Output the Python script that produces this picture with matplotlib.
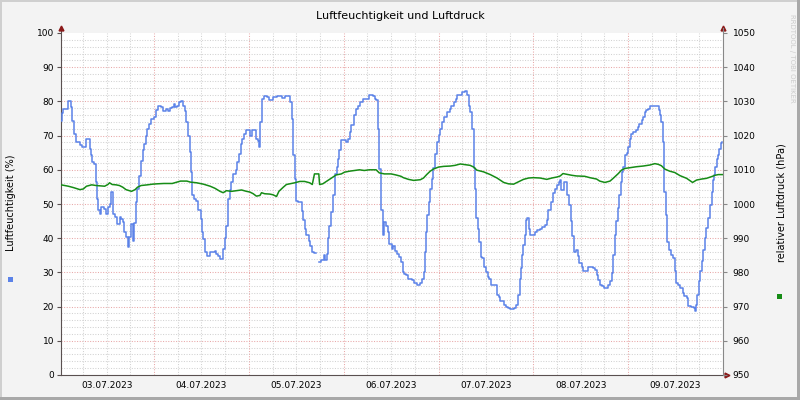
import matplotlib.pyplot as plt
import numpy as np
from matplotlib.patches import Rectangle

# Stunden ab 03.07.2023 00:00
hum_hours = [0.5, 0.8, 1.0, 2.2, 3.0, 3.3, 3.75, 4.2, 5.3, 5.8, 6.7, 7.75, 8.0, 8.4, 8.8, 9.2, 9.5, 9.8,
             10.2, 10.5, 11.3, 11.9, 12.3, 12.9, 13.2, 13.6, 14.2, 14.7, 15.3, 15.7, 16.1, 16.5, 16.9,
             17.3, 17.75, 18.2, 18.6, 19.0, 19.5, 19.8, 20.25, 20.7, 21.1, 21.5, 21.9, 22.3, 22.75,
             23.3, 24.0, 24.4, 25.0, 25.7, 26.3, 26.9, 27.5, 28.0, 28.6, 29.0, 29.4, 29.8, 30.25, 30.8,
             31.3, 31.75, 32.2, 32.6, 33.0, 33.3, 33.6, 34.0, 34.7, 35.25, 35.8, 36.2, 36.5, 36.9,
             37.3, 38.2, 39.0, 39.4, 39.8, 40.3, 40.7, 41.5, 41.9, 42.3, 42.75, 43.2, 43.6, 44.05,
             44.7, 45.1, 45.5, 45.9, 46.3, 46.7, 47.2, 47.8, 48.25, 48.8, 49.3, 49.7, 50.2, 50.5,
             50.8, 51.2, 51.4, 51.9, 52.5, 53.0, 53.7, 54.1, 55.0, 55.8, 56.5, 57.1, 58.1, 58.5,
             58.8, 59.2, 59.6, 59.85, 60.4, 61.0, 61.4, 61.7, 62.1, 62.5, 63.1, 63.5, 64.05, 64.4,
             65.0, 65.7, 66.3, 66.9, 67.3, 67.7, 68.1, 68.4, 68.8, 69.3, 69.9, 70.3, 70.5, 70.9,
             71.4, 71.9, 72.6, 73.0, 73.5, 73.9, 74.5, 75.0, 75.6, 76.2, 76.8, 77.7, 78.5, 79.3,
             79.8, 80.2, 80.6, 81.0, 81.4, 81.9, 82.3, 82.7, 83.1, 83.5, 84.1, 84.6, 85.0, 85.6,
             86.1, 86.5, 86.9, 87.3, 87.8, 88.4, 89.2, 89.7, 90.5, 91.2, 91.8, 92.2, 92.5, 92.9,
             93.2, 93.6, 93.9, 94.3, 94.7, 95.2, 95.6, 96.0, 96.4, 96.8, 97.4, 98.1, 98.8, 99.2,
             99.8, 100.4, 100.8, 101.5, 101.9, 102.75, 103.2, 103.6, 104.0, 104.4, 104.9, 105.3,
             105.5, 106.0, 106.3, 106.7, 107.1, 107.6, 108.1, 108.4, 108.9, 109.3, 110.3, 110.8,
             111.2, 111.6, 112.5, 113.1, 113.7, 114.1, 115.0, 115.7, 116.0, 116.5, 116.8, 117.2,
             117.5, 117.9, 118.2, 118.5, 118.95, 119.2, 119.9, 120.3, 120.9, 121.6, 122.2, 123.0,
             123.4, 123.8, 124.4, 124.9, 125.5, 126.0, 126.4, 126.8, 127.1, 127.5, 127.8, 128.2,
             128.6, 129.0, 129.5, 129.9, 130.3, 130.75, 131.2, 131.6, 132.2, 132.6, 133.3, 133.9,
             134.7, 135.1, 135.6, 136.0, 136.4, 136.8, 137.5, 137.9, 138.5, 138.9, 139.4, 139.8,
             140.2, 140.6, 141.0, 141.5, 141.7, 142.1, 142.4, 142.7, 143.2, 143.6, 144.0, 144.4,
             144.8, 145.3, 145.9, 146.4, 146.8, 147.4, 147.8, 148.2, 148.6, 149.1, 149.5, 150.3,
             151.3, 151.7, 152.0, 152.4, 152.7, 153.0, 153.5, 153.9, 154.3, 154.8, 155.4, 155.8,
             156.2, 156.7, 157.2, 157.8, 158.2, 158.8, 159.2, 160.0, 160.6, 160.9, 161.1, 161.5,
             161.8, 162.1, 162.6, 163.0, 163.4, 163.8, 164.3, 164.7, 165.1, 165.35, 165.7, 166.0,
             166.4, 166.7, 167.0, 167.4, 167.8]
hum_values = [74.4, 76.5, 77.9, 80.0, 78.3, 74.4, 70.5, 68.0, 67.2, 66.6, 68.9, 66.0, 64.2, 62.4, 61.7,
              56.4, 51.5, 48.1, 47.1, 49.0, 48.5, 47.0, 49.0, 50.0, 53.5, 47.0, 46.1, 44.2, 46.1,
              45.6, 44.6, 41.8, 40.3, 37.4, 40.3, 44.2, 39.3, 44.3, 50.5, 54.4, 58.3, 62.7, 65.7,
              67.6, 70.0, 72.0, 73.5, 75.0, 75.4, 77.4, 78.6, 78.3, 77.3, 77.8, 77.3, 78.0, 78.3,
              79.3, 78.3, 78.8, 79.8, 80.0, 78.6, 77.1, 74.0, 70.0, 65.2, 59.3, 52.5, 51.5, 51.0,
              48.1, 45.6, 41.8, 39.8, 35.9, 34.9, 35.9, 35.9, 36.4, 35.4, 34.9, 33.9, 36.8, 40.0,
              43.7, 51.5, 54.0, 56.4, 58.8, 59.8, 62.2, 64.7, 67.6, 68.9, 70.6, 71.5, 71.5, 70.0,
              71.5, 71.5, 69.0, 68.5, 66.6, 73.9, 76.9, 80.8, 81.6, 81.3, 80.3, 80.3, 81.3, 81.6,
              81.6, 81.0, 81.6, 81.6, 79.9, 74.9, 64.2, 57.4, 51.0, 50.5, 50.5, 48.0, 45.2, 42.7,
              40.8, 39.3, 37.8, 35.9, 35.7, np.nan, 33.0, 33.5, 35.0, 33.5, 35.4, 40.0, 43.7, 47.6,
              52.5, 58.8, 60.8, 63.2, 65.7, 68.6, 68.6, 68.1, 69.1, 71.0, 73.0, 75.9, 77.9, 78.8,
              79.8, 80.6, 80.8, 81.8, 81.6, 80.8, 80.3, 72.0, 60.3, 48.1, 40.8, 44.7, 43.7, 41.8,
              38.3, 36.9, 37.8, 36.4, 35.4, 34.4, 33.0, 30.0, 29.5, 29.2, 28.2, 27.7, 26.8, 26.3,
              26.8, 28.2, 30.2, 36.0, 41.9, 46.7, 50.6, 54.5, 57.4, 60.4, 64.7, 68.1, 70.1, 72.0,
              74.0, 75.4, 76.9, 77.9, 78.8, 79.8, 80.8, 81.8, 82.0, 82.7, 82.9, 81.8, 78.8, 76.9,
              72.0, 60.4, 54.5, 45.8, 42.8, 39.0, 34.6, 34.1, 31.7, 30.2, 28.7, 28.2, 26.3, 26.3,
              23.4, 22.9, 21.6, 20.4, 20.0, 19.6, 19.3, 19.6, 20.4, 23.4, 28.2, 31.2, 35.1, 38.0,
              40.9, 45.3, 45.8, 42.8, 40.9, 40.9, 41.9, 42.4, 42.8, 43.3, 43.8, 45.3, 48.2, 50.6,
              53.1, 54.5, 55.5, 56.5, 57.0, 54.1, 54.1, 56.3, 56.3, 52.6, 49.7, 44.9, 40.5, 36.1,
              36.6, 34.7, 32.7, 31.7, 30.3, 30.3, 31.7, 31.7, 31.2, 30.8, 29.3, 27.8, 26.4, 25.9,
              25.4, 25.4, 26.4, 27.4, 29.8, 35.1, 41.0, 44.9, 48.7, 52.6, 56.5, 59.4, 60.9, 64.3,
              64.8, 66.7, 69.1, 70.6, 71.1, 71.6, 72.5, 73.5, 74.5, 75.4, 76.9, 77.4, 77.9, 78.6,
              78.8, 78.6, 77.4, 75.9, 74.0, 68.2, 53.6, 46.8, 39.0, 36.6, 35.1, 34.2, 30.3, 26.9,
              26.4, 25.4, 24.0, 23.0, 22.5, 20.1, 19.8, 19.6, 18.6, 20.5, 23.5, 27.4, 30.3, 33.2,
              36.6, 40.0, 42.9, 45.8, 49.7, 53.6, 57.0, 58.4, 60.9, 63.3, 64.3, 66.2, 67.7, 68.2]

pres_hours = [0.5, 2.3, 3.6, 5.25, 6.1, 6.9, 8.2, 9.4, 11.5, 12.3, 12.75, 13.4, 14.4, 15.25, 16.1,
              16.9, 17.75, 18.3, 19.2, 19.8, 20.7, 22.3, 23.6, 24.8, 26.5, 28.6, 29.8, 30.7, 32.3,
              33.2, 34.8, 36.5, 38.2, 39.4, 40.7, 41.5, 42.3, 43.6, 44.9, 46.15, 47.4, 48.25, 49.1,
              49.9, 50.8, 51.2, 52.0, 53.3, 54.1, 55.0, 55.6, 56.7, 57.5, 58.3, 59.6, 60.9, 62.1,
              63.4, 64.05, 64.6, 65.7, 65.9, 66.7, 68.0, 69.3, 70.1, 71.4, 72.2, 73.5, 74.7, 76.0,
              77.2, 78.5, 80.2, 81.0, 82.3, 84.0, 85.2, 86.5, 87.1, 88.4, 89.7, 91.4, 92.2, 93.0,
              93.9, 94.7, 96.0, 97.3, 98.95, 100.2, 101.5, 102.75, 104.0, 104.9, 105.7, 107.4,
              109.1, 110.8, 112.5, 113.7, 115.0, 116.25, 117.5, 118.8, 120.0, 121.7, 123.4, 124.7,
              126.0, 126.8, 127.5, 128.4, 129.7, 130.9, 133.0, 134.3, 136.0, 136.8, 138.1, 139.4,
              140.2, 141.5, 142.3, 143.2, 144.4, 146.1, 147.8, 149.5, 150.75, 151.6, 152.4, 153.3,
              154.5, 155.8, 157.1, 158.8, 160.3, 161.3, 162.6, 163.8, 165.1, 166.0, 166.8, 167.8]
pres_values = [1005.6, 1005.2, 1004.8, 1004.2, 1004.4, 1005.2, 1005.6, 1005.4, 1005.2, 1005.7,
               1006.2, 1005.7, 1005.6, 1005.4, 1004.9, 1004.2, 1003.9, 1003.7, 1004.2, 1004.9,
               1005.4, 1005.6, 1005.8, 1005.9, 1006.0, 1006.0, 1006.4, 1006.7, 1006.7, 1006.4,
               1006.2, 1005.8, 1005.2, 1004.6, 1003.7, 1003.3, 1003.9, 1003.7, 1003.9, 1004.1,
               1003.7, 1003.5, 1003.0, 1002.3, 1002.5, 1003.3, 1003.0, 1002.9, 1002.7, 1002.2,
               1003.7, 1004.9, 1005.7, 1005.9, 1006.2, 1006.6, 1006.6, 1006.2, 1005.7, 1008.8,
               1008.8, 1005.7, 1005.9, 1006.9, 1007.9, 1008.5, 1008.8, 1009.3, 1009.6, 1009.8,
               1010.0, 1009.8, 1010.0, 1010.0, 1009.1, 1008.8, 1008.8, 1008.5, 1008.1, 1007.7,
               1007.2, 1006.9, 1007.1, 1007.6, 1008.6, 1009.6, 1010.2, 1010.8, 1011.0, 1011.1,
               1011.3, 1011.7, 1011.5, 1011.3, 1010.8, 1009.9, 1009.4, 1008.6, 1007.6, 1006.3,
               1005.9, 1005.8, 1006.5, 1007.2, 1007.6, 1007.7, 1007.6, 1007.2, 1007.6, 1007.9,
               1008.2, 1008.9, 1008.7, 1008.4, 1008.2, 1008.1, 1007.7, 1007.3, 1006.7, 1006.3,
               1006.7, 1007.5, 1008.9, 1009.9, 1010.4, 1010.6, 1010.9, 1011.1, 1011.4, 1011.8,
               1011.6, 1011.2, 1010.2, 1009.6, 1009.2, 1008.3, 1007.5, 1006.3, 1007.0, 1007.3,
               1007.5, 1008.0, 1008.4, 1008.6, 1008.6]

day_labels = ['03.07.2023', '04.07.2023', '05.07.2023', '06.07.2023',
              '07.07.2023', '08.07.2023', '09.07.2023']

W, H = 800, 400
fig = plt.figure(figsize=(8, 4), dpi=100, facecolor='#F3F3F3')

# Rahmen
fig.add_artist(Rectangle((0, 1 - 2 / H), 1, 2 / H, transform=fig.transFigure, color='#CFCFCF', lw=0))
fig.add_artist(Rectangle((0, 0), 2 / W, 1, transform=fig.transFigure, color='#CFCFCF', lw=0))
fig.add_artist(Rectangle((1 - 3 / W, 0), 3 / W, 1, transform=fig.transFigure, color='#A8A8A8', lw=0))
fig.add_artist(Rectangle((0, 0), 1, 3 / H, transform=fig.transFigure, color='#A8A8A8', lw=0))

ax = fig.add_axes([61 / W, 25 / H, 662 / W, 342 / H])
ax.set_facecolor('white')
ax.set_xlim(0.45, 168)
ax.set_ylim(0, 100)

# Gitter
minor = dict(color='#D2D2D2', lw=0.75, ls=(0, (1, 1.5)), zorder=0)
major = dict(color='#E8A8A8', lw=0.75, ls=(0, (1, 1.5)), zorder=0)
for y in range(2, 100, 2):
    ax.axhline(y, **(major if y % 10 == 0 else minor))
for h in range(6, 168, 6):
    ax.axvline(h, **(major if h % 24 == 0 else minor))

ax.plot(hum_hours, hum_values, color='#5B82E8', lw=1.1, drawstyle='steps-post', zorder=3)

ax2 = ax.twinx()
ax2.set_ylim(950, 1050)
ax2.plot(pres_hours, pres_values, color='#168C16', lw=1.1, zorder=3)

for a in (ax, ax2):
    for s in a.spines.values():
        s.set_visible(False)
ax.spines['left'].set_visible(True)
ax.spines['left'].set_color('#5A5050')
ax.spines['left'].set_bounds(0, 101.5)
ax.spines['bottom'].set_visible(True)
ax.spines['bottom'].set_color('#5A5050')
ax2.spines['right'].set_visible(True)
ax2.spines['right'].set_color('#888888')
ax2.spines['right'].set_bounds(950, 1051.5)

ax.set_yticks(range(0, 101, 10))
ax.tick_params(axis='y', length=3, width=0.8, color='#5A5050', labelsize=6.5, pad=2)
ax.set_xticks([12 + 24 * i for i in range(7)])
ax.set_xticklabels(day_labels)
ax.tick_params(axis='x', length=0, labelsize=6.5, pad=4)
ax2.set_yticks(range(950, 1051, 10))
ax2.tick_params(axis='y', length=3, width=0.8, color='#888888', labelsize=6.5, pad=4)

# Pfeile
arrow = dict(color='#8B1A1A', markersize=3.5, clip_on=False, zorder=5)
ax.plot([0], [1.015], marker='^', transform=ax.transAxes, **arrow)
ax.plot([1], [1.015], marker='^', transform=ax.transAxes, **arrow)
ax.plot([1.006], [0], marker='>', transform=ax.transAxes, **arrow)

fig.text(0.5, 1 - 16 / H, 'Luftfeuchtigkeit und Luftdruck', ha='center', va='center', fontsize=8)
fig.text(11 / W, 1 - 203 / H, 'Luftfeuchtigkeit (%)', rotation=90, ha='center', va='center', fontsize=7)
fig.text(781 / W, 1 - 203 / H, 'relativer Luftdruck (hPa)', rotation=90, ha='center', va='center', fontsize=7)
fig.text(792 / W, 1 - 14 / H, 'RRDTOOL / TOBI OETIKER', rotation=270, ha='center', va='top',
         fontsize=5, color='#CCCCCC')
fig.add_artist(Rectangle((8 / W, 1 - 282 / H), 5 / W, 5 / H, transform=fig.transFigure,
                         color='#5B82E8', lw=0))
fig.add_artist(Rectangle((777 / W, 1 - 299 / H), 5 / W, 5 / H, transform=fig.transFigure,
                         color='#168C16', lw=0))

fig.savefig('out.png', dpi=100, facecolor=fig.get_facecolor())
